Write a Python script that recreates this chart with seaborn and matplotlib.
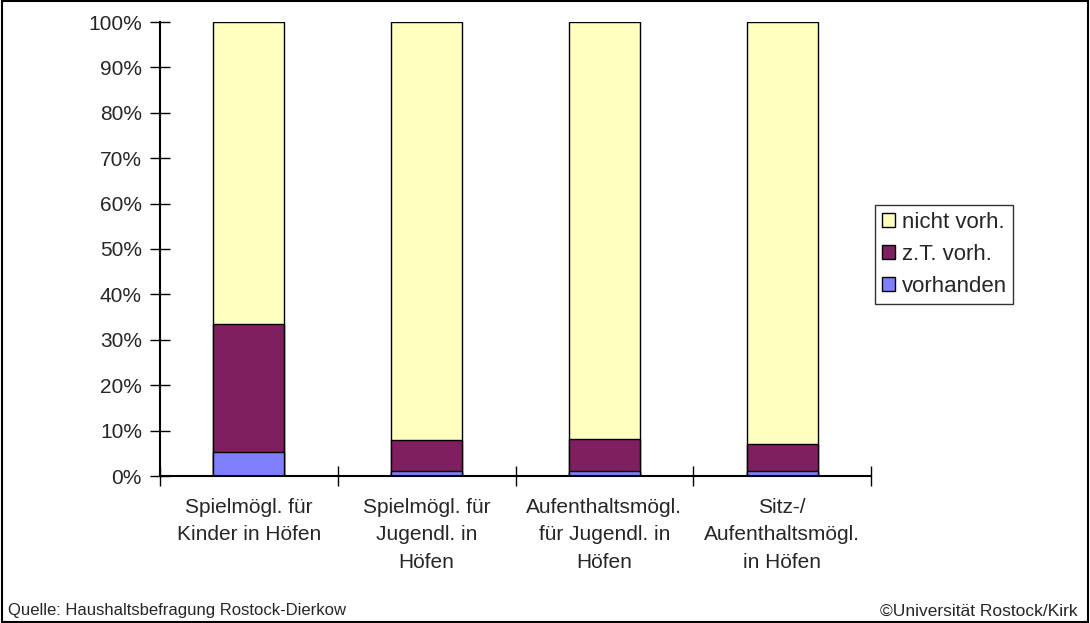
import numpy as np
import pandas as pd
import matplotlib
matplotlib.use("Agg")
import matplotlib.pyplot as plt
from matplotlib.patches import Patch, Rectangle
from matplotlib.ticker import FixedLocator, PercentFormatter
import seaborn as sns

# --- Data (shares in %) ---
categories = [
    "Spielmögl. für\nKinder in Höfen",
    "Spielmögl. für\nJugendl. in\nHöfen",
    "Aufenthaltsmögl.\nfür Jugendl. in\nHöfen",
    "Sitz-/\nAufenthaltsmögl.\nin Höfen",
]
vorhanden = [5.3, 1.0, 1.0, 1.0]
zt_vorh = [28.2, 6.9, 7.2, 6.0]
nicht_vorh = [100 - a - b for a, b in zip(vorhanden, zt_vorh)]

COL_NICHT = "#FFFFC0"
COL_ZT = "#7F1F5F"
COL_VORH = "#8080FF"

sns.set_theme(style="white")
plt.rcParams["font.family"] = ["Liberation Sans", "DejaVu Sans"]

df = pd.DataFrame({
    "cat": categories,
    "vorhanden": vorhanden,
    "zt": zt_vorh,
    "nicht": nicht_vorh,
})
df["top_zt"] = df["vorhanden"] + df["zt"]
df["top_all"] = df["top_zt"] + df["nicht"]

fig = plt.figure(figsize=(10.9, 6.23), dpi=100)
ax = fig.add_axes([160 / 1090, 1 - 476 / 623, (871 - 160) / 1090, (476 - 22) / 623])

# stacked bars: draw cumulative totals back to front
for col, color in [("top_all", COL_NICHT), ("top_zt", COL_ZT), ("vorhanden", COL_VORH)]:
    sns.barplot(data=df, x="cat", y=col, color=color, width=0.4,
                edgecolor="black", linewidth=1, saturation=1, ax=ax)

ax.set_xlim(-0.5, len(categories) - 0.5)
ax.set_ylim(0, 100)
ax.set_xlabel("")
ax.set_ylabel("")
ax.yaxis.set_major_locator(FixedLocator(np.arange(0, 101, 10)))
ax.yaxis.set_major_formatter(PercentFormatter(decimals=0))
ax.xaxis.set_minor_locator(FixedLocator(np.arange(-0.5, len(categories), 1.0)))
ax.tick_params(axis="x", which="major", bottom=True, length=0, labelsize=15, pad=16)
ax.tick_params(axis="x", which="minor", bottom=True, length=14, width=1,
               direction="inout", color="black")
ax.tick_params(axis="y", left=True, length=14, width=1, direction="inout",
               color="black", labelsize=15, pad=6)
for lab in ax.get_xticklabels():
    lab.set_ha("center")
    lab.set_multialignment("center")
    lab.set_linespacing(1.55)

sns.despine(ax=ax, top=True, right=True)
for s in ["left", "bottom"]:
    ax.spines[s].set_color("black")
    ax.spines[s].set_linewidth(1.5)

handles = [
    Patch(facecolor=COL_NICHT, edgecolor="black", label="nicht vorh."),
    Patch(facecolor=COL_ZT, edgecolor="black", label="z.T. vorh."),
    Patch(facecolor=COL_VORH, edgecolor="black", label="vorhanden"),
]
leg = ax.legend(handles=handles, loc="upper left", bbox_to_anchor=(875 / 1090, 1 - 205 / 623),
                bbox_transform=fig.transFigure, frameon=True, fancybox=False,
                edgecolor="black", fontsize=16, handlelength=0.6, handleheight=0.6,
                handletextpad=0.3, labelspacing=0.5, borderpad=0.3, borderaxespad=0)
leg.get_frame().set_linewidth(1)

fig.text(8 / 1090, 1 - 611 / 623, "Quelle: Haushaltsbefragung Rostock-Dierkow",
         fontsize=12, ha="left", va="center")
fig.text(1078 / 1090, 1 - 611 / 623, "©Universität Rostock/Kirk",
         fontsize=12.5, ha="right", va="center")

fig.patches.append(Rectangle((0.0015, 0.002), 0.997, 0.996, transform=fig.transFigure,
                             fill=False, edgecolor="black", linewidth=1.5))

fig.savefig("out.png", dpi=100)
plt.close(fig)
